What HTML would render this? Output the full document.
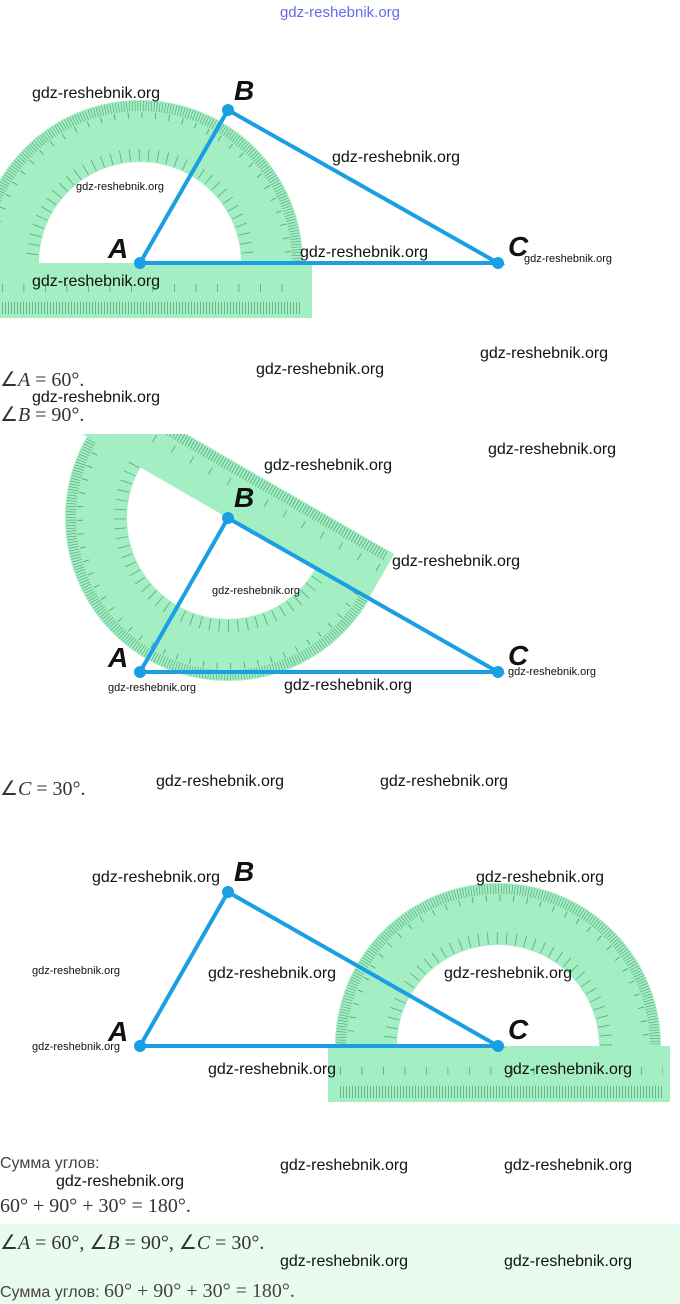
<!DOCTYPE html><html><head><meta charset="utf-8"><style>
html,body{margin:0;padding:0;background:#fff;width:680px;height:1304px;overflow:hidden}
svg{display:block}
.w{font-family:"Liberation Sans",sans-serif;font-size:16px;fill:#111}
.ws{font-family:"Liberation Sans",sans-serif;font-size:11px;fill:#111}
.m{font-family:"Liberation Serif",serif;font-size:20px;fill:#333}
.lbl{font-family:"Liberation Sans",sans-serif;font-size:28px;font-weight:bold;font-style:italic;fill:#111}
.ru{font-family:"Liberation Sans",sans-serif;font-size:16px;fill:#444}
</style></head><body>
<svg width="680" height="1304" viewBox="0 0 680 1304" xmlns="http://www.w3.org/2000/svg">
<defs>
<clipPath id="top"><rect x="-200" y="-200" width="400" height="200"/></clipPath>
<clipPath id="d2"><rect x="0" y="434" width="680" height="300"/></clipPath>
<g id="prot">
<path d="M-163,0 A163,163 0 0 1 163,0 L101,0 A101,101 0 0 0 -101,0 Z" fill="#a3efc3"/>
<g clip-path="url(#top)" fill="none" stroke="#3c8a63">
<circle r="157" stroke-width="10" stroke-dasharray="0.6 2.14" opacity="0.8"/>
<circle r="148" stroke-width="6" stroke-dasharray="0.8 12.9" opacity="0.8"/>
<circle r="108" stroke-width="12" stroke-dasharray="0.8 8.6" opacity="0.7"/>
</g>
</g>
</defs>
<rect x="0" y="1224" width="680" height="80" fill="#e9fbef"/>

<!-- diagram 1 -->
<g transform="translate(140,263)">
<rect x="-140" y="0" width="312" height="55" fill="#a3efc3"/>
<line x1="-138" y1="45" x2="160" y2="45" stroke="#3c8a63" stroke-width="12" stroke-dasharray="0.8 2.2" opacity="0.7"/>
<line x1="-138" y1="25" x2="160" y2="25" stroke="#3c8a63" stroke-width="8" stroke-dasharray="0.8 20.7" opacity="0.7"/>
<use href="#prot"/>
</g>
<g stroke="#1a9fe4" stroke-width="4" fill="none"><path d="M140,263 L228,110 L498,263 Z"/></g>
<g fill="#1a9fe4"><circle cx="140" cy="263" r="6"/><circle cx="228" cy="110" r="6"/><circle cx="498" cy="263" r="6"/></g>
<text class="lbl" x="108" y="258">A</text><text class="lbl" x="234" y="100">B</text><text class="lbl" x="508" y="256">C</text>

<!-- diagram 2 -->
<g clip-path="url(#d2)">
<g transform="translate(228,518) rotate(210)">
<rect x="-162" y="0" width="380" height="52" fill="#a3efc3"/>
<line x1="-155" y1="46" x2="200" y2="46" stroke="#3c8a63" stroke-width="10" stroke-dasharray="0.8 2.2" opacity="0.7"/>
<line x1="-155" y1="32" x2="200" y2="32" stroke="#3c8a63" stroke-width="8" stroke-dasharray="0.8 20.7" opacity="0.7"/>
<use href="#prot"/>
</g>
</g>
<g stroke="#1a9fe4" stroke-width="4" fill="none"><path d="M140,672 L228,518 L498,672 Z"/></g>
<g fill="#1a9fe4"><circle cx="140" cy="672" r="6"/><circle cx="228" cy="518" r="6"/><circle cx="498" cy="672" r="6"/></g>
<text class="lbl" x="108" y="667">A</text><text class="lbl" x="234" y="507">B</text><text class="lbl" x="508" y="665">C</text>

<!-- diagram 3 -->
<g transform="translate(498,1046)">
<rect x="-170" y="0" width="342" height="56" fill="#a3efc3"/>
<line x1="-158" y1="46" x2="165" y2="46" stroke="#3c8a63" stroke-width="12" stroke-dasharray="0.8 2.2" opacity="0.7"/>
<line x1="-158" y1="25" x2="165" y2="25" stroke="#3c8a63" stroke-width="8" stroke-dasharray="0.8 20.7" opacity="0.7"/>
<use href="#prot"/>
</g>
<g stroke="#1a9fe4" stroke-width="4" fill="none"><path d="M140,1046 L228,892 L498,1046 Z"/></g>
<g fill="#1a9fe4"><circle cx="140" cy="1046" r="6"/><circle cx="228" cy="892" r="6"/><circle cx="498" cy="1046" r="6"/></g>
<text class="lbl" x="108" y="1041">A</text><text class="lbl" x="234" y="881">B</text><text class="lbl" x="508" y="1039">C</text>

<!-- math text -->
<text class="m" x="0" y="386">∠<tspan font-style="italic">A</tspan> = 60°.</text>
<text class="m" x="0" y="421">∠<tspan font-style="italic">B</tspan> = 90°.</text>
<text class="m" x="0" y="795">∠<tspan font-style="italic">C</tspan> = 30°.</text>
<text class="ru" x="0" y="1168">Сумма углов:</text>
<text class="m" x="0" y="1212">60° + 90° + 30° = 180°.</text>
<text class="m" x="0" y="1249">∠<tspan font-style="italic">A</tspan> = 60°, ∠<tspan font-style="italic">B</tspan> = 90°, ∠<tspan font-style="italic">C</tspan> = 30°.</text>
<text class="ru" x="0" y="1297" font-size="18">Сумма углов: <tspan font-family="Liberation Serif" font-size="20">60° + 90° + 30° = 180°.</tspan></text>

<!-- watermarks -->
<text x="340" y="17" text-anchor="middle" font-family="Liberation Sans,sans-serif" font-size="15" fill="#6a6ae8">gdz-reshebnik.org</text>
<g class="w">
<text x="32" y="98">gdz-reshebnik.org</text>
<text x="332" y="162">gdz-reshebnik.org</text>
<text x="300" y="257">gdz-reshebnik.org</text>
<text x="32" y="286">gdz-reshebnik.org</text>
<text x="480" y="358">gdz-reshebnik.org</text>
<text x="256" y="374">gdz-reshebnik.org</text>
<text x="32" y="402">gdz-reshebnik.org</text>
<text x="488" y="454">gdz-reshebnik.org</text>
<text x="264" y="470">gdz-reshebnik.org</text>
<text x="392" y="566">gdz-reshebnik.org</text>
<text x="284" y="690">gdz-reshebnik.org</text>
<text x="156" y="786">gdz-reshebnik.org</text>
<text x="380" y="786">gdz-reshebnik.org</text>
<text x="92" y="882">gdz-reshebnik.org</text>
<text x="476" y="882">gdz-reshebnik.org</text>
<text x="208" y="978">gdz-reshebnik.org</text>
<text x="444" y="978">gdz-reshebnik.org</text>
<text x="208" y="1074">gdz-reshebnik.org</text>
<text x="504" y="1074">gdz-reshebnik.org</text>
<text x="280" y="1170">gdz-reshebnik.org</text>
<text x="504" y="1170">gdz-reshebnik.org</text>
<text x="56" y="1186">gdz-reshebnik.org</text>
<text x="280" y="1266">gdz-reshebnik.org</text>
<text x="504" y="1266">gdz-reshebnik.org</text>
</g>
<g class="ws">
<text x="76" y="190">gdz-reshebnik.org</text>
<text x="524" y="262">gdz-reshebnik.org</text>
<text x="212" y="594">gdz-reshebnik.org</text>
<text x="508" y="675">gdz-reshebnik.org</text>
<text x="108" y="691">gdz-reshebnik.org</text>
<text x="32" y="974">gdz-reshebnik.org</text>
<text x="32" y="1050">gdz-reshebnik.org</text>
</g>
</svg>
</body></html>
